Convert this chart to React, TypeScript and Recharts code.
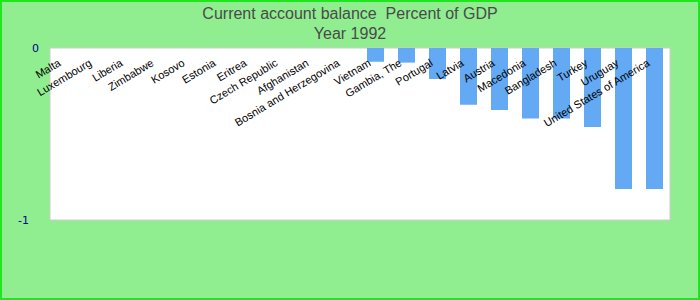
import { BarChart, Bar, XAxis, YAxis, CartesianGrid } from "recharts";

const countries = [
  "Malta",
  "Luxembourg",
  "Liberia",
  "Zimbabwe",
  "Kosovo",
  "Estonia",
  "Eritrea",
  "Czech Republic",
  "Afghanistan",
  "Bosnia and Herzegovina",
  "Vietnam",
  "Gambia, The",
  "Portugal",
  "Latvia",
  "Austria",
  "Macedonia",
  "Bangladesh",
  "Turkey",
  "Uruguay",
  "United States of America",
];

const balance = [
  0, 0, 0, 0, 0, 0, 0, 0, 0, 0,
  -0.08, -0.085, -0.18, -0.33, -0.36, -0.41, -0.41, -0.46, -0.82, -0.82,
];

const yTicks = [0, -1];

const data = countries.map((name, i) => ({ name, value: balance[i] }));

const CountryTick = (props: any) => {
  const { x, y, payload } = props;
  const ax = x - 4;
  const ay = y + 25;
  return (
    <text
      x={ax}
      y={ay}
      transform={`rotate(-31, ${ax}, ${ay})`}
      textAnchor="end"
      fontSize={11}
      fontFamily="'Liberation Sans', Arial, sans-serif"
      fill="#000"
    >
      {payload.value}
    </text>
  );
};

const ValueTick = (props: any) => {
  const { x, y, payload } = props;
  // the -1 label sits further left than the 0 label in the original
  const shift = payload.value < 0 ? -10 : 0;
  return (
    <text
      x={x + shift}
      y={y}
      dy="0.35em"
      textAnchor="end"
      fontSize={11}
      fontFamily="'DejaVu Sans', sans-serif"
      fill="#00008B"
    >
      {payload.value}
    </text>
  );
};

// plot frame: lines on the four edges of the plot area
const edgeRows = ({ offset }: any) => [offset.top, offset.top + offset.height];
const edgeCols = ({ offset }: any) => [offset.left, offset.left + offset.width];

export default function App() {
  return (
    <div style={{ width: 700, height: 300 }}>
      <style>{`body { margin: 0; }`}</style>
      <div
        style={{
          position: "relative",
          width: 700,
          height: 300,
          boxSizing: "border-box",
          background: "#90EE90",
          border: "2px solid #1fe61f",
        }}
      >
        <div
          style={{
            position: "absolute",
            top: 2,
            left: -2,
            width: 700,
            textAlign: "center",
            fontFamily: "'Liberation Sans', Arial, sans-serif",
            fontSize: 16,
            lineHeight: "20px",
            color: "#4a4a4a",
          }}
        >
          <div>Current account balance&nbsp; Percent of GDP</div>
          <div>Year 1992</div>
        </div>
        <div style={{ position: "absolute", top: -2, left: -2 }}>
          <BarChart
            width={700}
            height={300}
            data={data}
            margin={{ top: 18, right: 30, bottom: 80, left: 0 }}
            barSize={17}
          >
            <CartesianGrid
              fill="#ffffff"
              stroke="#cccccc"
              horizontalCoordinatesGenerator={edgeRows}
              verticalCoordinatesGenerator={edgeCols}
            />
            <XAxis
              dataKey="name"
              orientation="top"
              height={30}
              axisLine={false}
              tickLine={false}
              interval={0}
              tick={<CountryTick />}
            />
            <YAxis
              domain={[-1, 0]}
              ticks={yTicks}
              width={50}
              axisLine={false}
              tickLine={false}
              tickMargin={5}
              tick={<ValueTick />}
            />
            <Bar dataKey="value" fill="#63A9F3" isAnimationActive={false} />
          </BarChart>
        </div>
      </div>
    </div>
  );
}
